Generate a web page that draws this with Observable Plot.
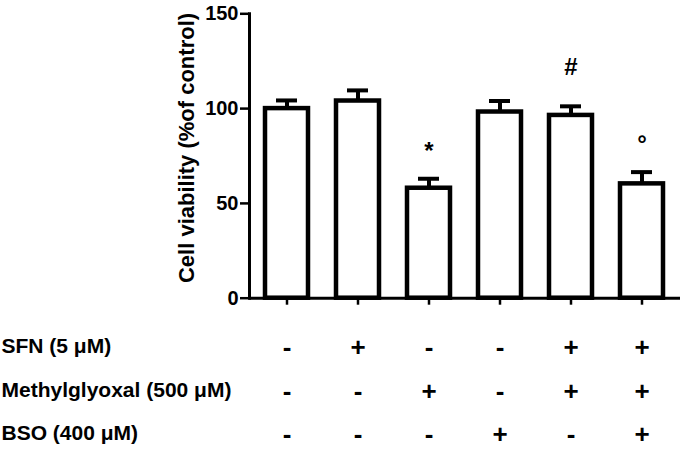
<!DOCTYPE html>
<html>
<head>
<meta charset="utf-8">
<script src="https://cdn.jsdelivr.net/npm/d3@7"></script>
<script src="https://cdn.jsdelivr.net/npm/@observablehq/plot@0.6"></script>
<style>
  html, body { margin: 0; padding: 0; background: #fff; }
</style>
</head>
<body>
<div id="chart"></div>
<script>
// Groups (bars)
const groups = ["Control", "SFN", "MG", "BSO", "SFN+MG", "SFN+MG+BSO"];
// Cell viability (% of control), mean and SEM
const means = [100, 104, 58.0, 98.2, 96.4, 60.3];
const sems = [4.3, 5.6, 5.0, 5.8, 4.8, 6.2];
// Significance markers and their heights (data units)
const sigLabels = ["", "", "*", "", "#", "°"];
const sigY = [null, null, 77.5, null, 121.9, 81.2];
// Treatment table
const rowLabels = ["SFN (5 μM)", "Methylglyoxal (500 μM)", "BSO (400 μM)"];
const sfn = ["-", "+", "-", "-", "+", "+"];
const mg  = ["-", "-", "+", "-", "+", "+"];
const bso = ["-", "-", "-", "+", "-", "+"];
const yTicks = [0, 50, 100, 150];
const yTitle = "Cell viability (%of control)";

const data = groups.map((g, i) => ({group: g, mean: means[i], sem: sems[i], top: means[i] + sems[i]}));
const sig = groups.map((g, i) => ({group: g, label: sigLabels[i], y: sigY[i]})).filter(d => d.label);
const rows = [sfn, mg, bso];
const tableRows = rows.map(r => groups.map((g, i) => ({group: g, sign: r[i]})));
const rowDy = [49, 93, 136];

const font = "'Liberation Sans', Arial, Helvetica, sans-serif";

const marks = [
  Plot.barY(data, {x: "group", y: "mean", fill: "white", stroke: "black", strokeWidth: 4.5}),
  Plot.ruleX(data, {x: "group", y1: "mean", y2: "top", stroke: "black", strokeWidth: 4}),
  Plot.tickY(data, {x: "group", y: "top", stroke: "black", strokeWidth: 4, insetLeft: 11, insetRight: 11}),
  Plot.ruleY([0], {stroke: "black", strokeWidth: 3}),
  Plot.frame({anchor: "left", stroke: "black", strokeWidth: 3}),
  Plot.axisY({ticks: yTicks, tickSize: 9, tickPadding: 2, strokeWidth: 2.5, fontSize: 20, fontWeight: "bold", label: null}),
  Plot.axisX({tickSize: 7, strokeWidth: 2.5, tickFormat: () => "", label: null}),
  Plot.text([yTitle], {frameAnchor: "left", textAnchor: "middle", lineAnchor: "middle", rotate: -90, dx: -63, dy: -8, fontSize: 22, fontWeight: "bold"}),
  Plot.text(sig, {x: "group", y: "y", text: "label", fontSize: 24, fontWeight: "bold"}),
  ...tableRows.map((r, k) => Plot.text(r, {x: "group", text: "sign", frameAnchor: "bottom", lineAnchor: "middle", dy: rowDy[k], fontSize: 26, fontWeight: "bold"})),
  ...rowLabels.map((lab, k) => Plot.text([lab], {frameAnchor: "bottom-left", textAnchor: "start", lineAnchor: "middle", dx: -248, dy: rowDy[k] - 1, fontSize: 21, fontWeight: "bold"}))
];

const chart = Plot.plot({
  width: 685,
  height: 455,
  marginLeft: 249,
  marginRight: 5,
  marginTop: 13.3,
  marginBottom: 157.3,
  style: {fontFamily: font, color: "black", background: "white", overflow: "visible"},
  x: {type: "band", domain: groups, paddingInner: 0.39, paddingOuter: 0.21},
  y: {domain: [0, 150]},
  marks
});
document.getElementById("chart").appendChild(chart);
</script>
</body>
</html>
